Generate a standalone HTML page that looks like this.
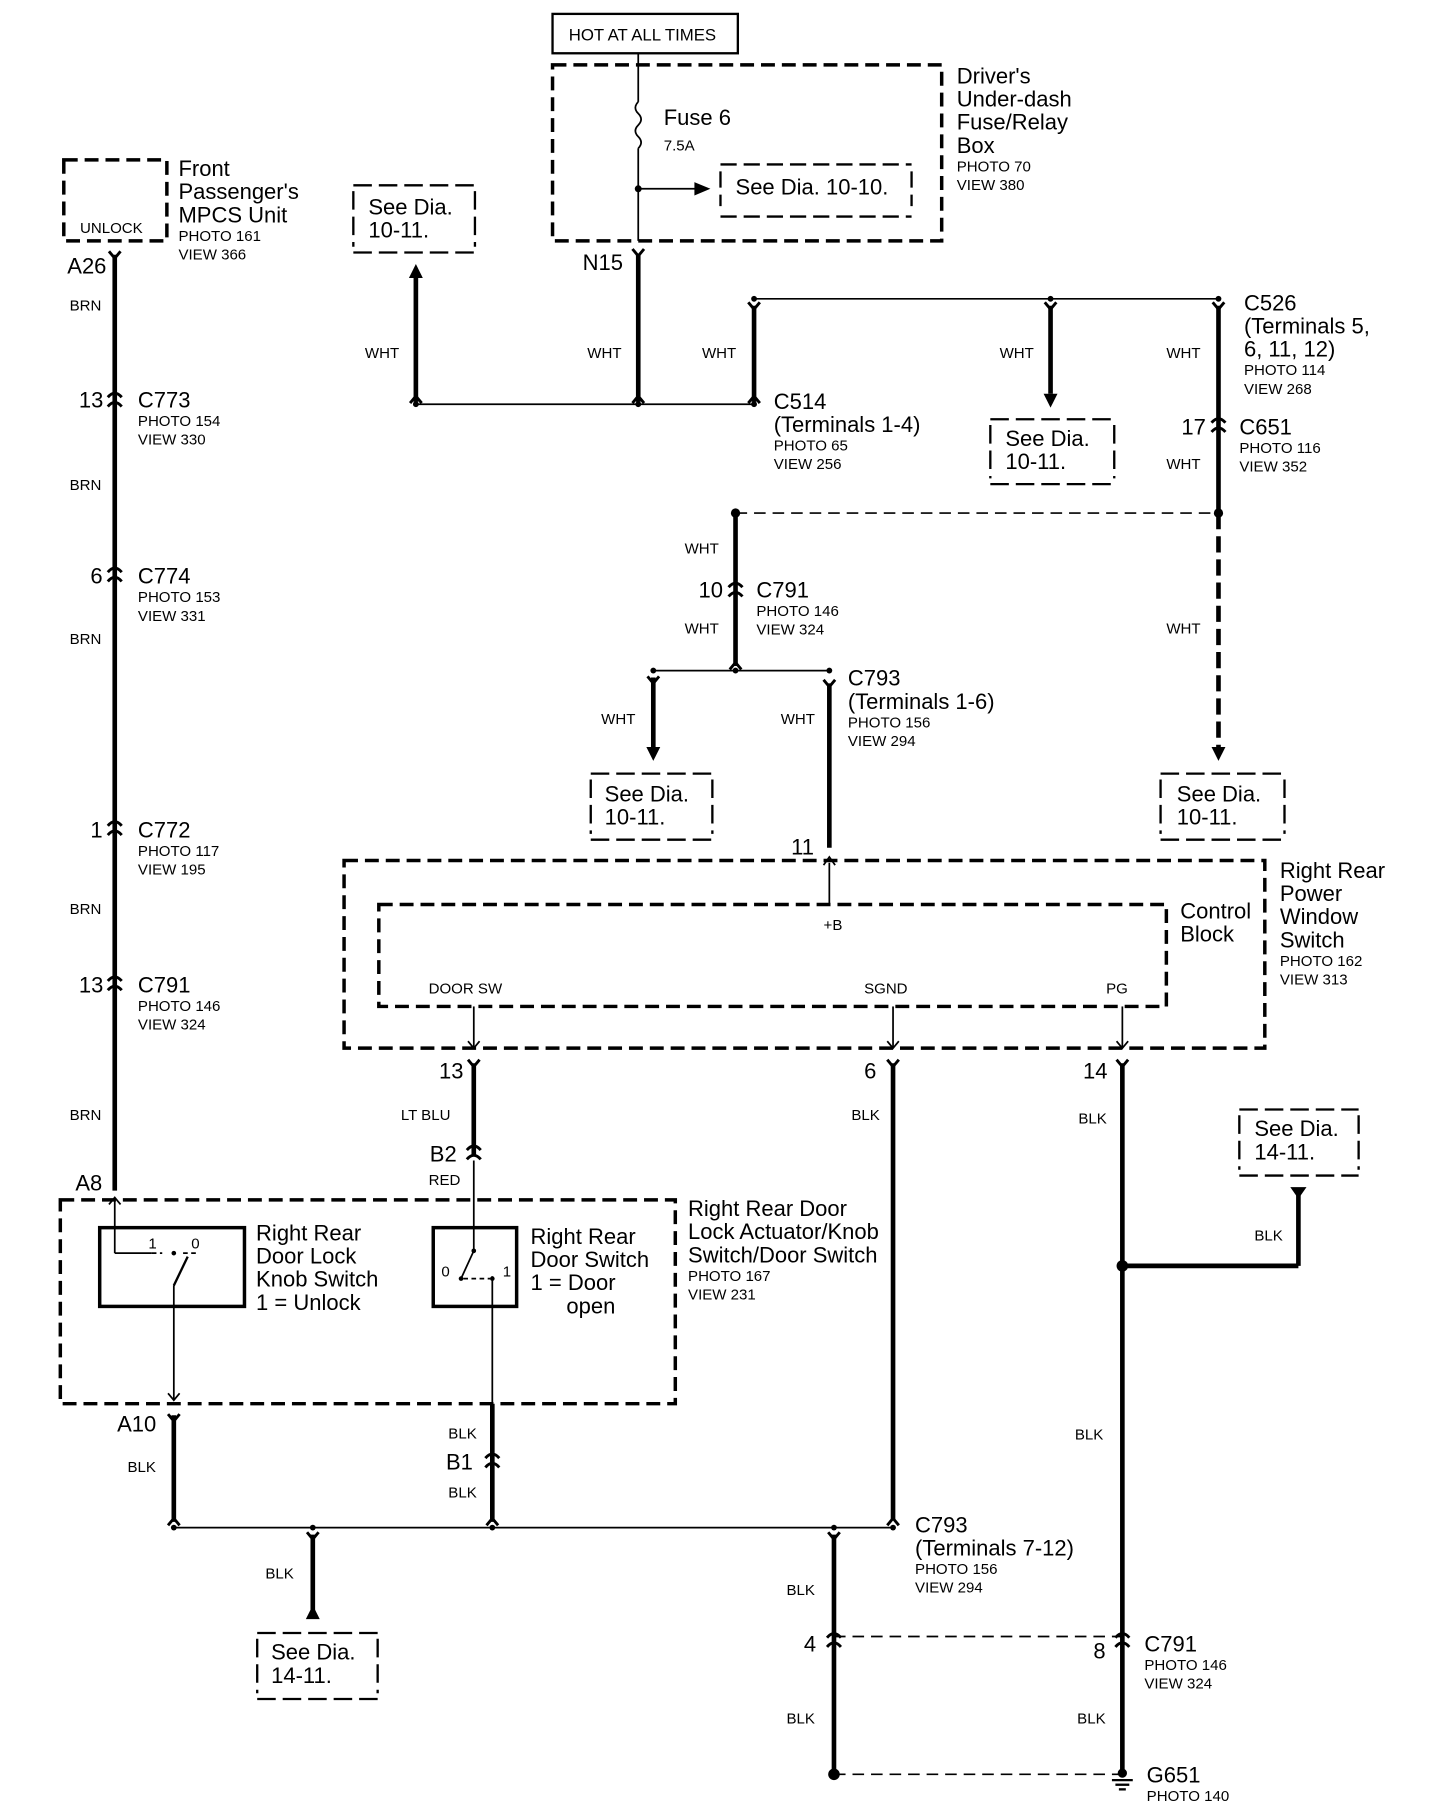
<!DOCTYPE html>
<html><head><meta charset="utf-8"><style>
html,body{margin:0;padding:0;background:#fff}
svg{display:block}
text{font-family:"Liberation Sans",sans-serif;fill:#000}
.b{font-size:19px}.s{font-size:13px}
</style></head><body>
<svg width="1456" height="1816" viewBox="0 0 1257 1568" xmlns="http://www.w3.org/2000/svg">
<defs>
<g id="cx"><path d="M-6,-3 Q0,-10 6,-3 M-6,5 Q0,-2 6,5" fill="none" stroke="#000" stroke-width="2.5"/></g>
<g id="fk"><path d="M-5,-5 L0,1 L5,-5" fill="none" stroke="#000" stroke-width="2.5"/></g>
<g id="fu"><path d="M-5,5 L0,-1 L5,5" fill="none" stroke="#000" stroke-width="2.5"/></g>
<g id="ad"><path d="M-6,-10 L0,2 L6,-10 Z" fill="#000"/></g>
<g id="au"><path d="M-6,10 L0,-2 L6,10 Z" fill="#000"/></g>
</defs>
<g stroke="#000" fill="none">
<rect x="477" y="12" width="160" height="34" stroke-width="2"/>
<rect x="477" y="56" width="336" height="152" stroke-width="3" stroke-dasharray="12,6"/>
<line x1="551" y1="46" x2="551" y2="88" stroke-width="1.5"/>
<path d="M551,88 q-5,5 0,10 q5,5 0,10 q-5,5 0,10 q5,5 0,10" stroke-width="1.5"/>
<line x1="551" y1="128" x2="551" y2="208" stroke-width="1.5"/>
<line x1="551" y1="163" x2="604" y2="163" stroke-width="1.5"/>
<path d="M600,158 L612,163 L600,168 Z" fill="#000"/>
<path d="M622,142 H787 M622,187 H787 M622,148 V178 M787,148 V178" stroke-width="2" stroke-dasharray="14,6"/>
<path d="M305,160 H410 M305,218 H410 M305,165 V213 M410,165 V213" stroke-width="2" stroke-dasharray="16,6"/>
<path d="M855,362 H962 M855,418 H962 M855,367 V413 M962,367 V413" stroke-width="2" stroke-dasharray="16,6"/>
<path d="M510,668 H615 M510,725 H615 M510,673 V720 M615,673 V720" stroke-width="2" stroke-dasharray="16,6"/>
<path d="M1002,668 H1109 M1002,725 H1109 M1002,673 V720 M1109,673 V720" stroke-width="2" stroke-dasharray="16,6"/>
<path d="M1070,958 H1173 M1070,1015 H1173 M1070,963 V1010 M1173,963 V1010" stroke-width="2" stroke-dasharray="16,6"/>
<path d="M222,1410 H326 M222,1467 H326 M222,1415 V1462 M326,1415 V1462" stroke-width="2" stroke-dasharray="16,6"/>
<rect x="55" y="138" width="89" height="70" stroke-width="3" stroke-dasharray="12,6"/>
<g stroke-width="4">
<line x1="551" y1="220" x2="551" y2="347"/>
<line x1="359" y1="240" x2="359" y2="347"/>
<line x1="651" y1="264" x2="651" y2="347"/>
<line x1="907" y1="264" x2="907" y2="340"/>
<line x1="1052" y1="264" x2="1052" y2="443"/>
<line x1="635" y1="443" x2="635" y2="575"/>
<line x1="564" y1="585" x2="564" y2="645"/>
<line x1="716" y1="590" x2="716" y2="732"/>
<line x1="1052" y1="443" x2="1052" y2="645" stroke-dasharray="14,6"/>
<line x1="99" y1="220" x2="99" y2="1028"/>
<line x1="409" y1="918" x2="409" y2="998"/>
<line x1="771" y1="918" x2="771" y2="1312"/>
<line x1="969" y1="918" x2="969" y2="1530"/>
<line x1="1121" y1="1030" x2="1121" y2="1093"/>
<line x1="969" y1="1093" x2="1121" y2="1093"/>
<line x1="150" y1="1222" x2="150" y2="1314"/>
<line x1="425" y1="1212" x2="425" y2="1314"/>
<line x1="270" y1="1325" x2="270" y2="1392"/>
<line x1="720" y1="1325" x2="720" y2="1530"/>
</g>
<g stroke-width="1.5">
<line x1="359" y1="349" x2="651" y2="349"/>
<line x1="651" y1="258" x2="1052" y2="258"/>
<line x1="564" y1="579" x2="716" y2="579"/>
<line x1="150" y1="1319" x2="771" y2="1319"/>
<line x1="716" y1="745" x2="716" y2="781"/>
<line x1="409" y1="869" x2="409" y2="905"/>
<line x1="771" y1="869" x2="771" y2="905"/>
<line x1="969" y1="869" x2="969" y2="905"/>
<line x1="409" y1="1002" x2="409" y2="1080"/>
<line x1="99" y1="1035" x2="99" y2="1082"/>
<line x1="99" y1="1082" x2="131" y2="1082"/>
<line x1="150" y1="1110" x2="150" y2="1208"/>
<line x1="425" y1="1102" x2="425" y2="1212"/>
</g>
<line x1="635" y1="443" x2="1052" y2="443" stroke-width="1.5" stroke-dasharray="10,6"/>
<line x1="720" y1="1413" x2="969" y2="1413" stroke-width="1.5" stroke-dasharray="10,6"/>
<line x1="720" y1="1532" x2="969" y2="1532" stroke-width="1.5" stroke-dasharray="10,6"/>
<rect x="297" y="743" width="795" height="162" stroke-width="3" stroke-dasharray="12,6"/>
<rect x="327" y="781" width="680" height="88" stroke-width="3" stroke-dasharray="12,6"/>
<rect x="52" y="1036" width="531" height="176" stroke-width="3" stroke-dasharray="12,6"/>
<rect x="86" y="1060" width="125" height="68" stroke-width="3"/>
<rect x="374" y="1060" width="72" height="68" stroke-width="3"/>
<path d="M131,1082 H140 M158,1082 H170" stroke-width="1.5" stroke-dasharray="4,3"/>
<path d="M150,1110 L162,1085" stroke-width="2"/>
<path d="M409,1080 L398,1104" stroke-width="1.5"/>
<path d="M400,1104 H423" stroke-width="1.5" stroke-dasharray="4,3"/>
</g>
<g fill="#000">
<circle cx="551" cy="163" r="3"/>
<circle cx="635" cy="443" r="4"/><circle cx="1052" cy="443" r="4"/>
<circle cx="969" cy="1093" r="5"/>
<circle cx="720" cy="1532" r="5"/>
<circle cx="359" cy="349" r="2.5"/><circle cx="551" cy="349" r="2.5"/><circle cx="651" cy="349" r="2.5"/>
<circle cx="651" cy="258" r="2.5"/><circle cx="907" cy="258" r="2.5"/><circle cx="1052" cy="258" r="2.5"/>
<circle cx="564" cy="579" r="2.5"/><circle cx="635" cy="579" r="2.5"/><circle cx="716" cy="579" r="2.5"/>
<circle cx="150" cy="1319" r="2.5"/><circle cx="270" cy="1319" r="2.5"/><circle cx="425" cy="1319" r="2.5"/><circle cx="720" cy="1319" r="2.5"/><circle cx="771" cy="1319" r="2.5"/>
<circle cx="150" cy="1082" r="2"/><circle cx="409" cy="1080" r="2"/><circle cx="398" cy="1104" r="2"/><circle cx="425" cy="1104" r="2"/>
</g>
<use href="#au" x="359" y="230"/>
<use href="#ad" x="907" y="350"/>
<use href="#ad" x="564" y="655"/>
<use href="#ad" x="1052" y="655"/>
<path d="M264,1398 L270,1386 L276,1398 Z" fill="#000"/>
<path d="M1114,1025 L1128,1025 L1121,1035 Z" fill="#000"/>
<g stroke="#000" stroke-width="1.5" fill="none">
<path d="M711,747 L716,740 L721,747"/>
<path d="M404,899 L409,905 L414,899"/><path d="M766,899 L771,905 L776,899"/><path d="M964,899 L969,905 L974,899"/>
<path d="M145,1203 L150,1209 L155,1203"/>
<path d="M94,1040 L99,1034 L104,1040"/>
</g>
<g stroke="#000" stroke-width="2"><line x1="960" y1="1537" x2="978" y2="1537"/><line x1="963" y1="1541" x2="975" y2="1541"/><line x1="966" y1="1545" x2="972" y2="1545"/></g>
<circle cx="969" cy="1531" r="4" fill="#000"/>
<use href="#fk" x="551" y="220"/><use href="#fk" x="99" y="222"/>
<use href="#fu" x="359" y="343"/><use href="#fu" x="551" y="343"/><use href="#fu" x="651" y="343"/>
<use href="#fk" x="651" y="266"/><use href="#fk" x="907" y="266"/><use href="#fk" x="1052" y="266"/>
<use href="#cx" x="1052" y="368"/><use href="#cx" x="99" y="346"/><use href="#cx" x="99" y="497"/>
<use href="#cx" x="99" y="716"/><use href="#cx" x="99" y="850"/><use href="#cx" x="635" y="510"/>
<use href="#fu" x="635" y="573"/><use href="#fk" x="564" y="589"/><use href="#fk" x="716" y="592"/>
<use href="#fk" x="409" y="920"/><use href="#fk" x="771" y="920"/><use href="#fk" x="969" y="920"/>
<use href="#cx" x="409" y="996"/><use href="#fk" x="150" y="1226"/><use href="#cx" x="425" y="1262"/>
<use href="#fu" x="150" y="1312"/><use href="#fu" x="425" y="1312"/><use href="#fu" x="771" y="1312"/>
<use href="#fk" x="270" y="1328"/><use href="#fk" x="720" y="1328"/>
<use href="#cx" x="720" y="1417"/><use href="#cx" x="969" y="1417"/>
<text x="491" y="35" style="font-size:14.5px">HOT AT ALL TIMES</text>
<text class="b" x="573" y="108">Fuse 6</text><text class="s" x="573" y="130">7.5A</text>
<text class="b" x="635" y="168">See Dia. 10-10.</text>
<text class="b" x="826" y="72">Driver's</text><text class="b" x="826" y="92">Under-dash</text><text class="b" x="826" y="112">Fuse/Relay</text><text class="b" x="826" y="132">Box</text>
<text class="s" x="826" y="148">PHOTO 70</text><text class="s" x="826" y="164">VIEW 380</text>
<text class="b" x="318" y="185">See Dia.</text><text class="b" x="318" y="205">10-11.</text>
<text class="b" x="154" y="152">Front</text><text class="b" x="154" y="172">Passenger's</text><text class="b" x="154" y="192">MPCS Unit</text>
<text class="s" x="154" y="208">PHOTO 161</text><text class="s" x="154" y="224">VIEW 366</text>
<text class="s" x="69" y="201">UNLOCK</text>
<text class="b" x="58" y="236">A26</text><text class="b" x="503" y="233">N15</text>
<text class="s" x="60" y="268">BRN</text><text class="s" x="60" y="423">BRN</text><text class="s" x="60" y="556">BRN</text><text class="s" x="60" y="789">BRN</text><text class="s" x="60" y="967">BRN</text>
<text class="s" x="315" y="309">WHT</text><text class="s" x="507" y="309">WHT</text><text class="s" x="606" y="309">WHT</text><text class="s" x="863" y="309">WHT</text><text class="s" x="1007" y="309">WHT</text>
<text class="b" x="1074" y="268">C526</text><text class="b" x="1074" y="288">(Terminals 5,</text><text class="b" x="1074" y="308">6, 11, 12)</text>
<text class="s" x="1074" y="324">PHOTO 114</text><text class="s" x="1074" y="340">VIEW 268</text>
<text class="b" x="668" y="353">C514</text><text class="b" x="668" y="373">(Terminals 1-4)</text>
<text class="s" x="668" y="389">PHOTO 65</text><text class="s" x="668" y="405">VIEW 256</text>
<text class="b" x="68" y="352">13</text><text class="b" x="119" y="352">C773</text><text class="s" x="119" y="368">PHOTO 154</text><text class="s" x="119" y="384">VIEW 330</text>
<text class="b" x="868" y="385">See Dia.</text><text class="b" x="868" y="405">10-11.</text>
<text class="b" x="1020" y="375">17</text><text class="b" x="1070" y="375">C651</text><text class="s" x="1070" y="391">PHOTO 116</text><text class="s" x="1070" y="407">VIEW 352</text>
<text class="s" x="1007" y="405">WHT</text>
<text class="s" x="591" y="478">WHT</text><text class="s" x="591" y="547">WHT</text><text class="s" x="1007" y="547">WHT</text>
<text class="b" x="78" y="504">6</text><text class="b" x="119" y="504">C774</text><text class="s" x="119" y="520">PHOTO 153</text><text class="s" x="119" y="536">VIEW 331</text>
<text class="b" x="603" y="516">10</text><text class="b" x="653" y="516">C791</text><text class="s" x="653" y="532">PHOTO 146</text><text class="s" x="653" y="548">VIEW 324</text>
<text class="b" x="732" y="592">C793</text><text class="b" x="732" y="612">(Terminals 1-6)</text><text class="s" x="732" y="628">PHOTO 156</text><text class="s" x="732" y="644">VIEW 294</text>
<text class="s" x="519" y="625">WHT</text><text class="s" x="674" y="625">WHT</text>
<text class="b" x="522" y="692">See Dia.</text><text class="b" x="522" y="712">10-11.</text>
<text class="b" x="1016" y="692">See Dia.</text><text class="b" x="1016" y="712">10-11.</text>
<text class="b" x="78" y="723">1</text><text class="b" x="119" y="723">C772</text><text class="s" x="119" y="739">PHOTO 117</text><text class="s" x="119" y="755">VIEW 195</text>
<text class="b" x="683" y="738">11</text><text class="s" x="711" y="803">+B</text>
<text class="b" x="1105" y="758">Right Rear</text><text class="b" x="1105" y="778">Power</text><text class="b" x="1105" y="798">Window</text><text class="b" x="1105" y="818">Switch</text>
<text class="s" x="1105" y="834">PHOTO 162</text><text class="s" x="1105" y="850">VIEW 313</text>
<text class="b" x="1019" y="793">Control</text><text class="b" x="1019" y="813">Block</text>
<text class="s" x="370" y="858">DOOR SW</text><text class="s" x="746" y="858">SGND</text><text class="s" x="955" y="858">PG</text>
<text class="b" x="68" y="857">13</text><text class="b" x="119" y="857">C791</text><text class="s" x="119" y="873">PHOTO 146</text><text class="s" x="119" y="889">VIEW 324</text>
<text class="b" x="379" y="931">13</text><text class="b" x="746" y="931">6</text><text class="b" x="935" y="931">14</text>
<text class="s" x="346" y="967">LT BLU</text><text class="s" x="735" y="967">BLK</text><text class="s" x="931" y="970">BLK</text>
<text class="b" x="1083" y="981">See Dia.</text><text class="b" x="1083" y="1001">14-11.</text>
<text class="b" x="371" y="1003">B2</text><text class="s" x="370" y="1023">RED</text>
<text class="b" x="65" y="1028">A8</text>
<text class="b" x="594" y="1050">Right Rear Door</text><text class="b" x="594" y="1070">Lock Actuator/Knob</text><text class="b" x="594" y="1090">Switch/Door Switch</text>
<text class="s" x="594" y="1106">PHOTO 167</text><text class="s" x="594" y="1122">VIEW 231</text>
<text class="s" x="1083" y="1071">BLK</text>
<text class="b" x="221" y="1071">Right Rear</text><text class="b" x="221" y="1091">Door Lock</text><text class="b" x="221" y="1111">Knob Switch</text><text class="b" x="221" y="1131">1 = Unlock</text>
<text class="b" x="458" y="1074">Right Rear</text><text class="b" x="458" y="1094">Door Switch</text><text class="b" x="458" y="1114">1 = Door</text><text class="b" x="489" y="1134">open</text>
<text class="s" x="128" y="1078">1</text><text class="s" x="165" y="1078">0</text>
<text class="s" x="381" y="1102">0</text><text class="s" x="434" y="1102">1</text>
<text class="b" x="101" y="1236">A10</text><text class="s" x="110" y="1271">BLK</text>
<text class="s" x="387" y="1242">BLK</text><text class="b" x="385" y="1269">B1</text><text class="s" x="387" y="1293">BLK</text>
<text class="s" x="928" y="1243">BLK</text>
<text class="b" x="790" y="1323">C793</text><text class="b" x="790" y="1343">(Terminals 7-12)</text><text class="s" x="790" y="1359">PHOTO 156</text><text class="s" x="790" y="1375">VIEW 294</text>
<text class="s" x="229" y="1363">BLK</text><text class="s" x="679" y="1377">BLK</text>
<text class="b" x="694" y="1426">4</text><text class="b" x="944" y="1432">8</text>
<text class="b" x="988" y="1426">C791</text><text class="s" x="988" y="1442">PHOTO 146</text><text class="s" x="988" y="1458">VIEW 324</text>
<text class="b" x="234" y="1433">See Dia.</text><text class="b" x="234" y="1453">14-11.</text>
<text class="s" x="679" y="1488">BLK</text><text class="s" x="930" y="1488">BLK</text>
<text class="b" x="990" y="1539">G651</text><text class="s" x="990" y="1555">PHOTO 140</text>
</svg>
</body></html>
